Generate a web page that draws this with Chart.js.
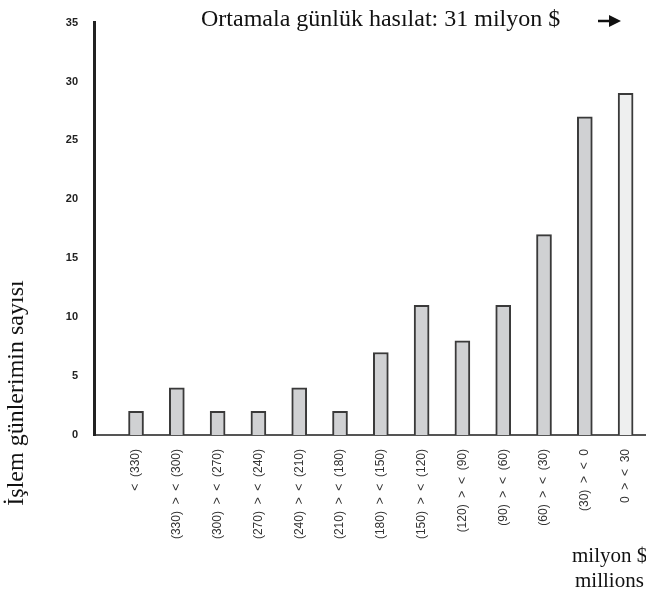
<!DOCTYPE html>
<html>
<head>
<meta charset="utf-8">
<script src="https://cdn.jsdelivr.net/npm/chart.js@4"></script>
<style>
  html, body { margin: 0; padding: 0; background: #fff; overflow: hidden; }
  canvas { display: block; }
</style>
</head>
<body>
<canvas id="chart" width="646" height="597"></canvas>
<script>
let ranges = [
  "<  (330)",
  "(330)  >  <  (300)",
  "(300)  >  <  (270)",
  "(270)  >  <  (240)",
  "(240)  >  <  (210)",
  "(210)  >  <  (180)",
  "(180)  >  <  (150)",
  "(150)  >  <  (120)",
  "(120)  >  <  (90)",
  "(90)  >  <  (60)",
  "(60)  >  <  (30)",
  "(30)  >  <  0",
  "0  >  <  30",
];
let dayCounts = [2, 4, 2, 2, 4, 2, 7, 11, 8, 11, 17, 27, 29];
let yTicks = [0, 5, 10, 15, 20, 25, 30, 35];
let titleText = "Ortamala günlük hasılat: 31 milyon $";
let yTitle = "İşlem günlerimin sayısı";
let unitLines = ["milyon $", "millions"];

let barFill = dayCounts.map((v, i) => (i == dayCounts.length - 1 ? "#eeefef" : "#d0d1d3"));

let extraText = {
  id: "extraText",
  afterDraw(chart) {
    let ctx = chart.ctx;
    ctx.save();
    ctx.fillStyle = "#111";
    ctx.font = '24px "Liberation Serif"';
    ctx.textBaseline = "middle";
    ctx.textAlign = "left";
    ctx.fillText(titleText, 201, 20);

    // arrow
    ctx.strokeStyle = "#111";
    ctx.lineWidth = 2.5;
    ctx.beginPath();
    ctx.moveTo(598, 21);
    ctx.lineTo(611, 21);
    ctx.stroke();
    ctx.beginPath();
    ctx.moveTo(621, 21);
    ctx.lineTo(609, 15);
    ctx.lineTo(609, 27);
    ctx.closePath();
    ctx.fill();

    ctx.font = '21px "Liberation Serif"';
    ctx.textAlign = "left";
    ctx.fillText(unitLines[0], 572, 556);
    ctx.fillText(unitLines[1], 575, 581);

    ctx.translate(17, 393);
    ctx.rotate(-Math.PI / 2);
    ctx.textAlign = "center";
    ctx.font = '24px "Liberation Serif"';
    ctx.fillText(yTitle, 0, 0);
    ctx.restore();
  },
};

let ctx = document.getElementById("chart").getContext("2d");
new Chart(ctx, {
  type: "bar",
  data: {
    datasets: [
      {
        data: dayCounts.map((v, i) => ({ x: i, y: v })),
        backgroundColor: barFill,
        borderColor: "#3a3a3a",
        borderWidth: 2,
        borderSkipped: "bottom",
        barThickness: 15,
      },
    ],
  },
  options: {
    responsive: false,
    animation: false,
    layout: { padding: { top: 21, right: 0, left: 0, bottom: 0 } },
    plugins: { legend: { display: false }, tooltip: { enabled: false } },
    scales: {
      x: {
        type: "linear",
        min: -1.03,
        max: 12.5,
        offset: false,
        grid: { display: false, drawTicks: false, offset: false },
        border: { color: "#555", width: 2 },
        afterFit(scale) {
          scale.height = 162;
          scale.paddingLeft = 0;
          scale.paddingRight = 0;
        },
        afterBuildTicks(scale) {
          scale.ticks = ranges.map((r, i) => ({ value: i }));
        },
        ticks: {
          autoSkip: false,
          minRotation: 90,
          maxRotation: 90,
          padding: 14,
          color: "#333",
          font: { family: "Arial, Liberation Sans", size: 12 },
          callback: (v) => ranges[v] || "",
        },
      },
      y: {
        min: 0,
        max: 35,
        grid: { display: false, drawTicks: false },
        border: { color: "#222", width: 3 },
        afterFit(scale) {
          scale.width = 94;
        },
        afterBuildTicks(scale) {
          scale.ticks = yTicks.map((t) => ({ value: t }));
        },
        ticks: {
          padding: 16,
          color: "#222",
          font: { family: "Arial, Liberation Sans", size: 11, weight: "bold" },
        },
      },
    },
  },
  plugins: [extraText],
});
</script>
</body>
</html>
